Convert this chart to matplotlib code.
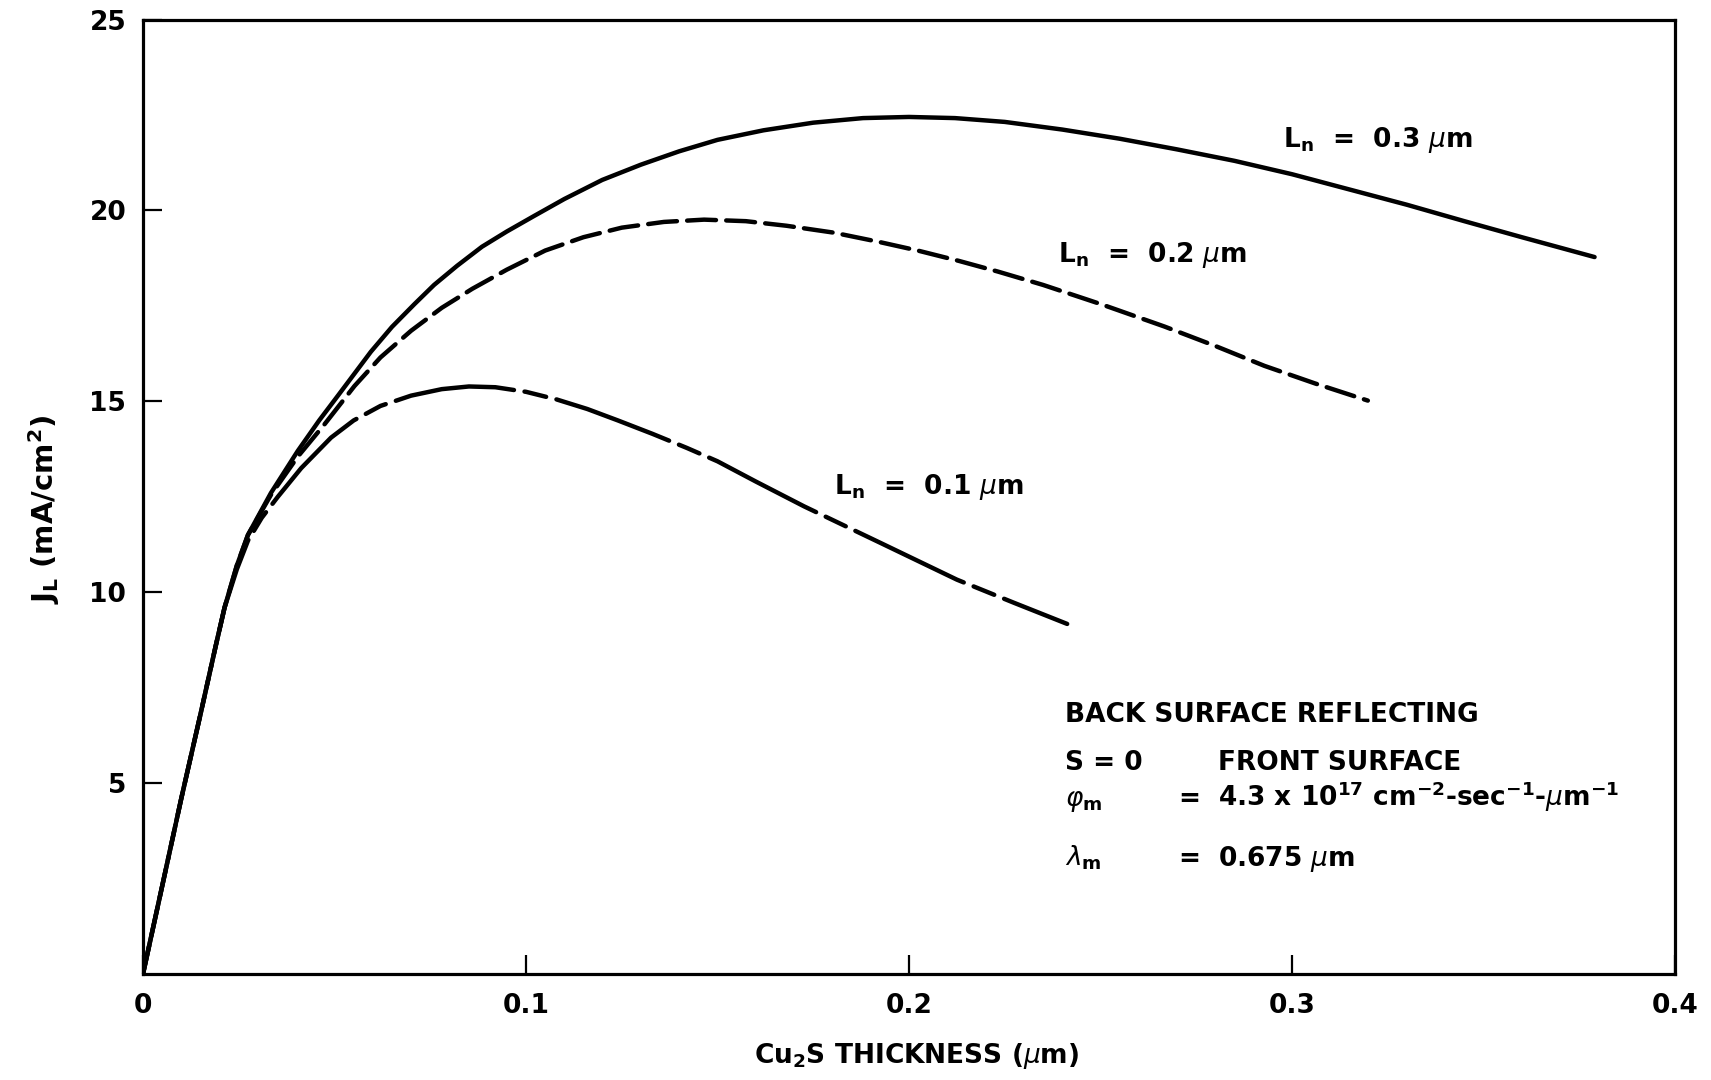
import matplotlib
matplotlib.use("Agg")
import matplotlib.pyplot as plt

plt.rcParams['font.family'] = ['DejaVu Sans']
plt.rcParams['mathtext.fontset'] = 'dejavusans'
plt.rcParams['mathtext.default'] = 'regular'

# ---- data ----
x_ln03 = [0, 0.005, 0.010, 0.015, 0.019, 0.0213, 0.0245, 0.0274, 0.0334, 0.0404, 0.0460,
          0.0509, 0.0595, 0.0650, 0.0709, 0.0760, 0.0820, 0.0885, 0.0950, 0.1020, 0.1100,
          0.1199, 0.1300, 0.1400, 0.1500, 0.1620, 0.1750, 0.1880, 0.2000, 0.2120, 0.2250,
          0.2400, 0.2550, 0.2700, 0.2850, 0.3000, 0.3150, 0.3300, 0.3450, 0.3600, 0.3790]
y_ln03 = [0, 2.3, 4.6, 6.8, 8.6, 9.6, 10.7, 11.5, 12.6, 13.7, 14.5,
          15.15, 16.3, 16.95, 17.55, 18.05, 18.55, 19.05, 19.45, 19.85, 20.3,
          20.8, 21.2, 21.55, 21.85, 22.1, 22.3, 22.42, 22.45, 22.42, 22.32,
          22.12, 21.88, 21.6, 21.3, 20.95, 20.55, 20.15, 19.72, 19.3, 18.78]

x_ln02 = [0, 0.005, 0.010, 0.015, 0.019, 0.0213, 0.0245, 0.0274, 0.0334, 0.0404, 0.0474,
          0.0552, 0.0620, 0.0700, 0.0780, 0.0860, 0.0950, 0.1050, 0.1150, 0.1250, 0.1360,
          0.1465, 0.1574, 0.1680, 0.1803, 0.1920, 0.2023, 0.2130, 0.2232, 0.2350, 0.2500,
          0.2667, 0.2800, 0.2928, 0.3060, 0.3198]
y_ln02 = [0, 2.3, 4.6, 6.8, 8.6, 9.6, 10.7, 11.5, 12.55, 13.55, 14.4,
          15.4, 16.15, 16.85, 17.45, 17.95, 18.45, 18.95, 19.3, 19.55, 19.7,
          19.76, 19.72, 19.6, 19.42, 19.18, 18.95, 18.68, 18.4, 18.05, 17.55,
          16.96, 16.45, 15.93, 15.47, 15.02]

x_ln01 = [0, 0.005, 0.010, 0.015, 0.019, 0.0213, 0.0245, 0.0274, 0.0310, 0.0352, 0.0413,
          0.0491, 0.0550, 0.0620, 0.0700, 0.0780, 0.0851, 0.0920, 0.1000, 0.1080, 0.1160,
          0.1240, 0.1330, 0.1420, 0.1500, 0.1600, 0.1726, 0.1926, 0.2125, 0.2275, 0.2413]
y_ln01 = [0, 2.3, 4.6, 6.8, 8.6, 9.6, 10.6, 11.35, 11.95, 12.5, 13.25,
          14.05, 14.5, 14.88, 15.15, 15.32, 15.39, 15.37, 15.25, 15.05, 14.8,
          14.5, 14.15, 13.78, 13.43, 12.9, 12.25, 11.29, 10.33, 9.72, 9.17]

x_ticks = [0, 0.1, 0.2, 0.3, 0.4]
x_ticklabels = ["0", "0.1", "0.2", "0.3", "0.4"]
y_ticks = [5, 10, 15, 20, 25]
y_ticklabels = ["5", "10", "15", "20", "25"]

# ---- figure ----
fig = plt.figure(figsize=(17.11, 10.8), dpi=100)
ax = fig.add_axes([143/1711, 106/1080, (1675-143)/1711, (974-19.6)/1080])

lw = 3.2
ax.plot(x_ln03, y_ln03, color='black', lw=lw, solid_capstyle='round', solid_joinstyle='round')
ax.plot(x_ln02, y_ln02, color='black', lw=lw, linestyle=(0, (6.5, 2.3)), dash_capstyle='round')
ax.plot(x_ln01, y_ln01, color='black', lw=lw, linestyle=(0, (27, 2.4, 5, 2.4)), dash_capstyle='round')

ax.set_xlim(0, 0.4)
ax.set_ylim(0, 25)
ax.set_xticks(x_ticks)
ax.set_xticklabels(x_ticklabels)
ax.set_yticks(y_ticks)
ax.set_yticklabels(y_ticklabels)
ax.tick_params(direction='in', length=14, width=1.6, labelsize=19)
ax.tick_params(axis='x', pad=14)
ax.tick_params(axis='y', pad=12)
for lab in ax.get_xticklabels() + ax.get_yticklabels():
    lab.set_fontweight('bold')
for sp in ax.spines.values():
    sp.set_linewidth(2.3)

ax.set_xlabel(r"Cu$_2$S THICKNESS ($\mathit{\mu}$m)", fontsize=19, fontweight='bold')
ax.xaxis.set_label_coords(0.505, -0.0705)
ax.set_ylabel(r"J$_L$ (mA/cm$^2$)", fontsize=21, fontweight='bold')
ax.yaxis.set_label_coords(-0.053, 0.487)

fs = 19
fw = 'bold'
ax.text(0.2977, 21.67, r"L$_n$  =  0.3 $\mathit{\mu}$m", fontsize=fs, fontweight=fw, va='baseline')
ax.text(0.2389, 18.66, r"L$_n$  =  0.2 $\mathit{\mu}$m", fontsize=fs, fontweight=fw, va='baseline')
ax.text(0.1804, 12.58, r"L$_n$  =  0.1 $\mathit{\mu}$m", fontsize=fs, fontweight=fw, va='baseline')

ax.text(0.2407, 6.61, "BACK SURFACE REFLECTING", fontsize=fs, fontweight=fw, va='baseline')
ax.text(0.2407, 5.35, "S = 0", fontsize=fs, fontweight=fw, va='baseline')
ax.text(0.2807, 5.35, "FRONT SURFACE", fontsize=fs, fontweight=fw, va='baseline')
ax.text(0.2407, 4.39, r"$\mathit{\varphi}_m$", fontsize=fs, fontweight=fw, va='baseline')
ax.text(0.2704, 4.39, "=", fontsize=fs, fontweight=fw, va='baseline')
ax.text(0.2807, 4.39, r"4.3 x 10$^{17}$ cm$^{-2}$-sec$^{-1}$-$\mathit{\mu}$m$^{-1}$", fontsize=fs, fontweight=fw, va='baseline')
ax.text(0.2407, 2.84, r"$\mathit{\lambda}_m$", fontsize=fs, fontweight=fw, va='baseline')
ax.text(0.2704, 2.84, "=", fontsize=fs, fontweight=fw, va='baseline')
ax.text(0.2807, 2.84, r"0.675 $\mathit{\mu}$m", fontsize=fs, fontweight=fw, va='baseline')

fig.savefig("out.png", dpi=100)
